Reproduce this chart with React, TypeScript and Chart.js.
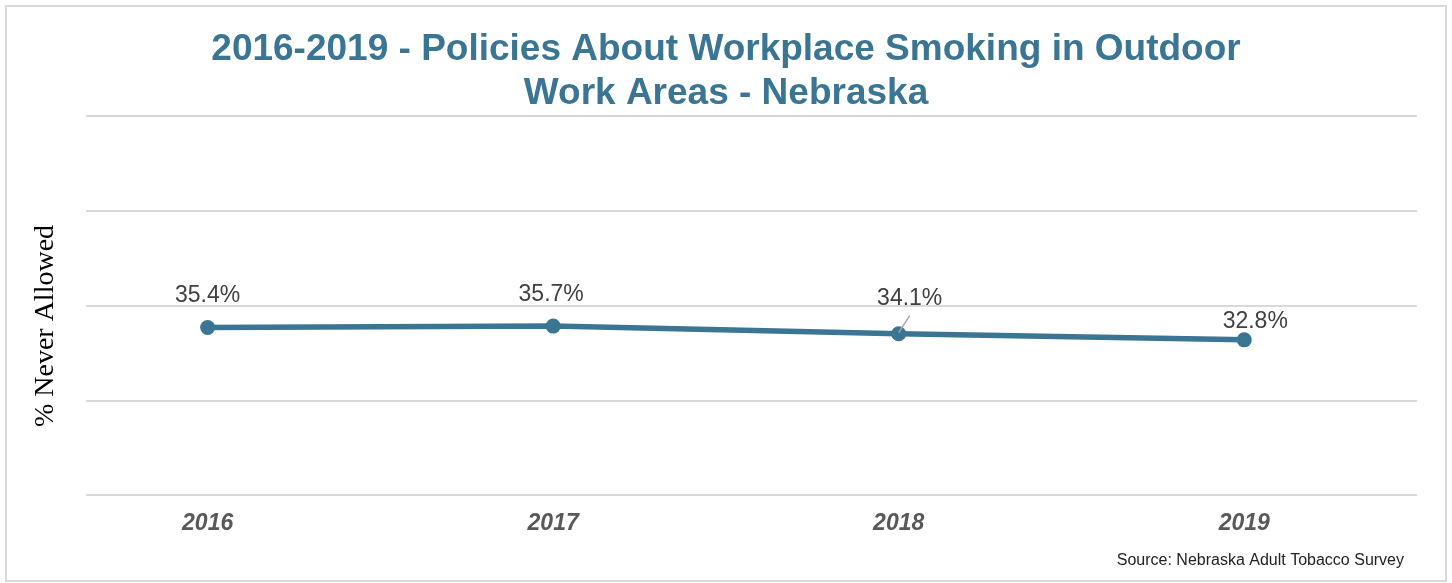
import React, { useEffect, useRef } from 'react';
import { Chart, registerables } from 'chart.js';

Chart.register(...registerables);

const years = [2016, 2017, 2018, 2019];
const neverAllowed = [35.4, 35.7, 34.1, 32.8];
const yMin = 0;
const yMax = 80;
const yStep = 20;
const titleLines = ['2016-2019 - Policies About Workplace Smoking in Outdoor', 'Work Areas - Nebraska'];
const yAxisTitle = '% Never Allowed';
const sourceNote = 'Source: Nebraska Adult Tobacco Survey';
const labelOffsets = [[0, -32], [-2, -31], [11, -35], [11, -18]];
const leaderLines = [null, null, [[11, -18], [0, -1]], null];

const MAIN = '#3a7593';
const SANS = '"Liberation Sans", Arial, sans-serif';
const SERIF = '"Liberation Serif", "Times New Roman", serif';

const decorPlugin = {
  id: 'decor',
  beforeDraw(chart: any) {
    const ctx = chart.ctx;
    ctx.save();
    ctx.fillStyle = '#ffffff';
    ctx.fillRect(0, 0, chart.width, chart.height);
    ctx.strokeStyle = '#d9d9d9';
    ctx.lineWidth = 2;
    ctx.strokeRect(6, 6, chart.width - 12, chart.height - 8);
    ctx.restore();
  },
  afterDraw(chart: any) {
    const ctx = chart.ctx;
    ctx.save();
    // title
    ctx.fillStyle = MAIN;
    ctx.font = `bold 37px ${SANS}`;
    ctx.textAlign = 'center';
    ctx.textBaseline = 'middle';
    titleLines.forEach((t, i) => ctx.fillText(t, chart.width / 2, 50 + i * 44));
    // y title
    ctx.save();
    ctx.translate(46, 326);
    ctx.rotate(-Math.PI / 2);
    ctx.fillStyle = '#000000';
    ctx.font = `28px ${SERIF}`;
    ctx.fillText(yAxisTitle, 0, 0);
    ctx.restore();
    // source
    ctx.fillStyle = '#222222';
    ctx.font = `16px ${SANS}`;
    ctx.textAlign = 'right';
    ctx.fillText(sourceNote, 1404, 561);
    // data labels
    const meta = chart.getDatasetMeta(0);
    ctx.textAlign = 'center';
    ctx.font = `23px ${SANS}`;
    meta.data.forEach((pt: any, i: number) => {
      const v = neverAllowed[i];
      const [dx, dy] = labelOffsets[i];
      const ll = leaderLines[i];
      if (ll) {
        ctx.strokeStyle = '#a6a6a6';
        ctx.lineWidth = 1.5;
        ctx.beginPath();
        ctx.moveTo(pt.x + ll[0][0], pt.y + ll[0][1]);
        ctx.lineTo(pt.x + ll[1][0], pt.y + ll[1][1]);
        ctx.stroke();
      }
      ctx.fillStyle = '#404040';
      ctx.fillText(`${v.toFixed(1)}%`, pt.x + dx, pt.y + dy);
    });
    ctx.restore();
  },
};

export default function App() {
  const ref = useRef<HTMLCanvasElement>(null);
  useEffect(() => {
    if (!ref.current) return;
    const chart = new Chart(ref.current, {
      type: 'line',
      data: {
        datasets: [
          {
            label: yAxisTitle,
            data: years.map((y, i) => ({ x: y, y: neverAllowed[i] })),
            borderColor: MAIN,
            backgroundColor: MAIN,
            borderWidth: 5.5,
            pointRadius: 7.5,
            pointBorderWidth: 0,
            pointBackgroundColor: MAIN,
            tension: 0,
          },
        ],
      },
      options: {
        responsive: false,
        animation: false,
        devicePixelRatio: 1,
        layout: { padding: { left: 86, right: 35, top: 116, bottom: 32 } },
        plugins: {
          legend: { display: false },
          title: { display: false },
          tooltip: { enabled: false },
        },
        scales: {
          x: {
            type: 'linear',
            min: 2015.648,
            max: 2019.5,
            afterBuildTicks: (axis: any) => {
              axis.ticks = years.map((v) => ({ value: v }));
            },
            grid: { display: false, drawTicks: false },
            border: { display: false },
            ticks: {
              padding: 14,
              color: '#595959',
              font: { family: SANS, size: 23, weight: 'bold', style: 'italic' },
              callback: (v: any) => String(v),
            },
          },
          y: {
            min: yMin,
            max: yMax,
            ticks: { display: false, stepSize: yStep },
            grid: { color: '#d9d9d9', lineWidth: 2, drawTicks: false },
            border: { display: false },
          },
        },
      },
      plugins: [decorPlugin],
    } as any);
    return () => chart.destroy();
  }, []);
  return (
    <div style={{ position: 'fixed', left: 0, top: 0, width: 1452, height: 583 }}>
      <canvas ref={ref} width={1452} height={583} style={{ display: 'block' }} />
    </div>
  );
}
